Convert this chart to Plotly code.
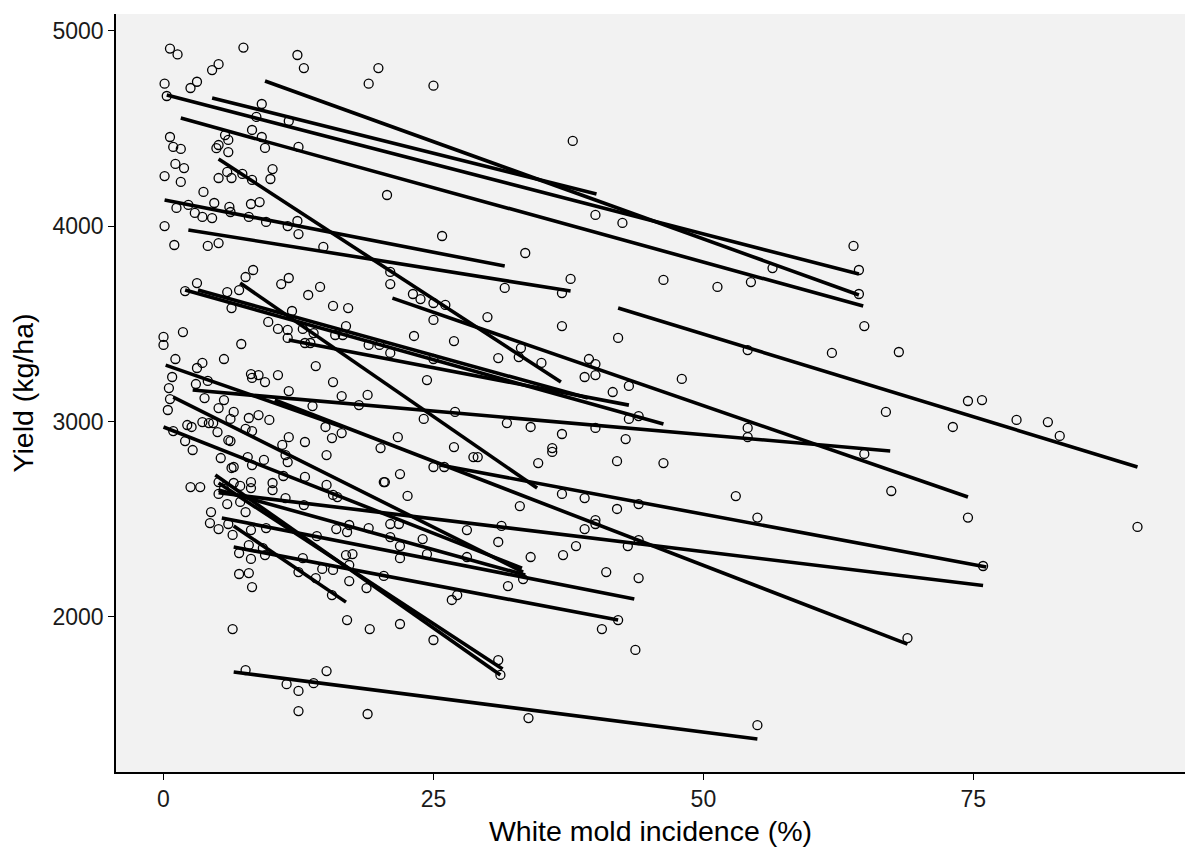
import plotly.graph_objects as go

# Observed plots: white mold incidence (%) and yield (kg/ha)
inc = [
 0.6,1.3,7.4,12.4,13.0,19.9,19.0,25.0,4.5,5.1,0.1,0.3,2.5,3.1,9.1,8.6,11.6,8.2,9.1,9.4,12.5,5.7,6.0,5.1,4.9,6.0,
 0.6,0.9,1.6,1.1,1.9,0.1,1.6,3.7,10.1,9.9,5.9,7.3,8.2,5.1,6.3,20.7,4.7,6.1,8.1,8.9,1.2,2.3,2.9,3.6,4.5,6.2,7.9,
 9.5,11.5,12.4,12.5,0.1,1.0,4.1,5.1,14.8,25.8,37.9,40.0,42.5,33.5,63.9,
 8.3,7.6,3.1,2.0,5.9,7.0,10.9,11.6,13.4,14.5,15.7,17.1,21.0,21.0,23.1,23.8,25.0,26.1,25.0,23.2,26.9,24.4,25.0,
 6.3,11.9,9.7,10.6,11.5,12.9,13.9,16.9,15.9,16.6,11.5,13.1,13.6,19.0,20.0,21.0,0.0,0.0,1.8,7.2,14.1,1.1,3.6,3.1,
 5.6,0.8,0.5,3.0,4.1,0.6,0.4,3.8,5.6,8.1,8.8,8.2,9.4,10.6,15.7,11.6,16.5,18.9,13.8,18.1,6.5,5.1,7.9,8.8,6.2,9.8,
 2.2,2.6,3.6,4.2,4.6,5.0,0.9,2.0,2.7,7.6,8.2,6.0,6.2,15.0,15.6,11.6,13.1,16.5,21.7,20.1,26.9,27.0,24.1,25.0,26.0,
 28.7,11.0,11.3,11.5,9.3,7.8,8.2,5.3,6.5,6.3,15.1,13.1,11.1,21.9,20.4,20.5,22.6,15.7,16.1,15.1,2.5,3.4,5.1,5.1,
 5.6,6.5,7.1,8.1,8.1,10.1,10.1,11.3,4.4,5.9,7.1,7.6,13.0,
 37.7,31.6,36.9,46.3,51.3,54.4,56.4,30.0,36.9,42.1,54.1,61.9,33.1,32.9,31.0,35.0,39.4,40.0,40.0,39.0,48.0,43.1,
 41.6,44.0,43.1,31.8,34.0,36.9,40.0,42.8,54.1,54.1,36.0,36.0,29.1,34.7,42.0,46.3,36.9,39.0,33.0,42.0,44.0,53.0,
 55.0,40.0,
 64.4,64.4,64.9,68.1,66.9,74.5,75.8,73.1,79.0,81.9,83.0,64.9,67.4,74.5,90.2,75.9,68.9,
 4.3,5.1,6.0,6.4,8.1,9.5,7.9,9.2,9.4,7.0,8.1,7.0,7.9,8.2,6.4,14.2,16.0,17.0,17.2,19.0,21.0,21.8,21.0,21.9,21.9,
 24.0,24.4,28.1,28.1,12.9,12.5,14.7,15.7,14.1,15.6,16.9,17.5,17.2,17.2,18.8,20.4,26.7,27.2,17.0,19.1,21.9,25.0,
 7.6,15.1,11.4,13.9,12.5,12.5,18.9,
 31.3,31.0,39.0,40.0,44.0,43.0,38.2,34.0,37.0,41.0,44.0,31.9,33.3,42.1,40.6,43.7,31.0,31.2,33.8,55.0,
]
yld = [
 4910,4880,4915,4877,4810,4810,4730,4720,4800,4830,4730,4667,4708,4740,4626,4560,4539,4493,4457,4401,4406,4467,4442,4416,4400,4380,
 4457,4406,4396,4319,4298,4257,4227,4176,4293,4242,4278,4268,4237,4247,4247,4160,4119,4099,4114,4124,4094,4109,4068,4048,4042,4073,4048,
 4022,4001,4027,3960,4001,3904,3899,3914,3894,3950,4437,4058,4017,3863,3899,
 3776,3740,3709,3668,3663,3673,3704,3735,3648,3689,3592,3581,3766,3704,3653,3627,3607,3597,3520,3438,3412,3212,3320,
 3581,3566,3510,3474,3469,3474,3453,3489,3443,3443,3428,3402,3402,3392,3392,3351,3433,3392,3458,3397,3284,3320,3300,3274,
 3320,3228,3171,3192,3208,3115,3059,3120,3110,3243,3238,3223,3202,3238,3202,3156,3130,3136,3079,3084,3049,3069,3018,3033,3013,3008,
 2982,2972,2997,2992,2992,2946,2951,2900,2854,2962,2951,2905,2900,2972,2915,2920,2895,2941,2920,2864,2869,3049,3013,2767,2767,
 2818,2880,2828,2792,2803,2818,2777,2813,2767,2762,2828,2716,2721,2731,2690,2690,2619,2624,2613,2675,2664,2664,2690,2629,
 2655,2685,2670,2690,2659,2685,2649,2608,2536,2577,2588,2536,2572,
 3730,3684,3658,3725,3689,3714,3786,3535,3489,3428,3366,3351,3376,3330,3325,3300,3320,3294,3238,3228,3218,3182,
 3151,3028,3013,2992,2972,2936,2967,2910,2967,2920,2864,2844,2818,2787,2797,2787,2629,2608,2567,2552,2577,2618,
 2508,2495,
 3776,3653,3489,3356,3049,3105,3110,2972,3008,2997,2926,2834,2644,2508,2460,2260,1891,
 2480,2449,2475,2419,2444,2454,2367,2352,2316,2326,2296,2219,2224,2152,1937,2413,2449,2434,2470,2454,2475,2475,2408,2362,2300,
 2398,2321,2444,2306,2300,2229,2245,2240,2198,2111,2316,2321,2265,2183,2147,2209,2086,2111,1983,1937,1963,1881,
 1727,1722,1655,1660,1620,1517,1502,
 2465,2383,2449,2475,2393,2362,2362,2306,2316,2229,2198,2157,2193,1983,1937,1830,1778,1702,1481,1445,
]

# Fitted regression line per study: incidence range and predicted yield at both ends
fit_x0 = [9.4, 4.5, 0.3, 1.6, 0.1, 2.3, 5.1, 42.1, 21.2, 2.0, 2.7, 7.1, 25.6, 5.1, 10.3, 6.5, 5.4, 6.5, 0.9, 0.0, 5.1, 5.1, 4.8, 6.5, 0.2, 11.6, 3.2]
fit_x1 = [64.4, 40.1, 64.4, 64.8, 31.6, 37.7, 36.8, 90.2, 74.5, 46.3, 67.3, 34.6, 76.2, 75.9, 68.9, 55.0, 43.6, 42.1, 33.3, 33.2, 33.5, 31.4, 31.2, 16.9, 16.6, 43.1, 39.3]
fit_y0 = [4744, 4657, 4672, 4554, 4134, 3981, 4344, 3581, 3632, 3673, 3161, 3709, 2777, 2635, 3110, 1717, 2506, 2357, 3125, 2972, 2649, 2685, 2726, 2465, 3289, 3417, 3673]
fit_y1 = [3648, 4165, 3755, 3591, 3796, 3668, 3202, 2767, 2613, 2987, 2849, 2659, 2255, 2160, 1860, 1374, 2091, 1983, 2229, 2249, 2214, 1732, 1702, 2075, 2972, 3084, 3120]

x_ticks = [0, 25, 50, 75]
y_ticks = [2000, 3000, 4000, 5000]

lx, ly = [], []
for a, b, c, d in zip(fit_x0, fit_x1, fit_y0, fit_y1):
    lx += [a, b, None]
    ly += [c, d, None]

fig = go.Figure()
fig.add_trace(go.Scatter(
    x=inc, y=yld, mode="markers",
    marker=dict(symbol="circle-open", size=9, color="black", line=dict(width=1.3, color="black")),
    hoverinfo="x+y", showlegend=False))
fig.add_trace(go.Scatter(
    x=lx, y=ly, mode="lines", line=dict(color="black", width=3.6),
    hoverinfo="skip", showlegend=False))

font_family = "Liberation Sans, Arial, sans-serif"
fig.update_layout(
    width=1200, height=857,
    margin=dict(l=116, r=15, t=14, b=85),
    paper_bgcolor="white", plot_bgcolor="#F2F2F2",
    font=dict(family=font_family, color="black"),
    xaxis=dict(range=[-4.4, 94.6], tickvals=x_ticks, ticks="outside", ticklen=6, tickwidth=1.4,
               tickcolor="black", showline=True, linecolor="black", linewidth=1.6, showgrid=False,
               zeroline=False, tickfont=dict(size=23, color="#1a1a1a"),
               title=dict(text="White mold incidence (%)", font=dict(size=28.5), standoff=10)),
    yaxis=dict(range=[1205, 5087], tickvals=y_ticks, ticks="outside", ticklen=6, tickwidth=1.4,
               tickcolor="black", showline=True, linecolor="black", linewidth=1.6, showgrid=False,
               zeroline=False, tickfont=dict(size=23, color="#1a1a1a"),
               title=dict(text="Yield (kg/ha)", font=dict(size=28.5), standoff=10)),
)
fig.write_html("out.html")
